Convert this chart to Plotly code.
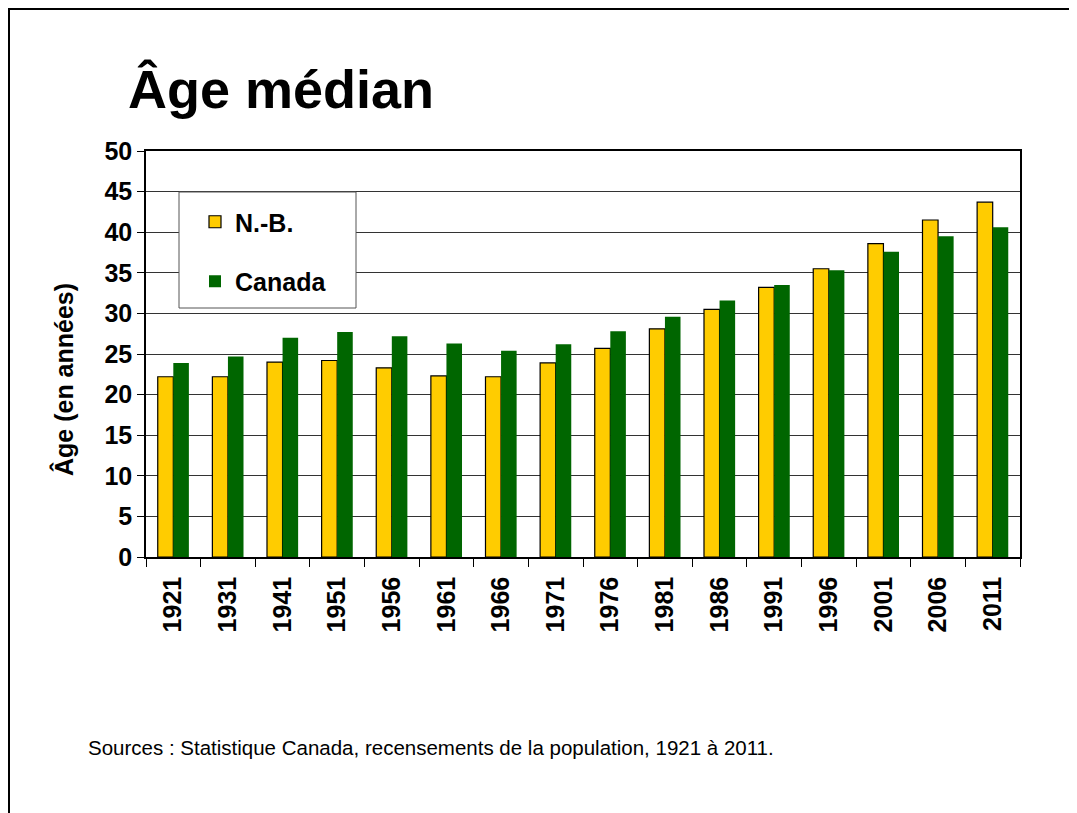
import plotly.graph_objects as go

years = ["1921", "1931", "1941", "1951", "1956", "1961", "1966", "1971",
         "1976", "1981", "1986", "1991", "1996", "2001", "2006", "2011"]
nb = [22.2, 22.2, 24.0, 24.2, 23.3, 22.3, 22.2, 23.9,
      25.7, 28.1, 30.5, 33.2, 35.5, 38.6, 41.5, 43.7]
canada = [23.9, 24.7, 27.0, 27.7, 27.2, 26.3, 25.4, 26.2,
          27.8, 29.6, 31.6, 33.5, 35.3, 37.6, 39.5, 40.6]
y_ticks = [0, 5, 10, 15, 20, 25, 30, 35, 40, 45, 50]

OFF = 8  # page body margin
W, H = 1077 - OFF, 813 - OFF
L, R, T, B = 146 - OFF, 1020 - OFF, 151 - OFF, 557 - OFF


def px(x):  # screen x -> paper
    return (x - OFF - L) / (R - L)


def py(y):  # screen y -> paper
    return (B - (y - OFF)) / (B - T)


FONT = "Liberation Sans, Arial, sans-serif"

fig = go.Figure()
fig.add_trace(go.Bar(
    x=years, y=nb, name="N.-B.", legendgroup="a",
    marker=dict(color="#FFCC00", line=dict(color="#000000", width=1.2)),
))
fig.add_trace(go.Bar(
    x=years, y=canada, name="Canada", legendgroup="b",
    marker=dict(color="#006600", line=dict(color="#006600", width=0)),
))

shapes = [
    # legend box
    dict(type="rect", xref="paper", yref="paper",
         x0=px(179), x1=px(356), y0=py(308), y1=py(192),
         fillcolor="white", line=dict(color="#555555", width=1), layer="above"),
    # outer frame (top and left)
    dict(type="line", xref="paper", yref="paper",
         x0=px(8), x1=px(1090), y0=py(9), y1=py(9),
         line=dict(color="black", width=2)),
    dict(type="line", xref="paper", yref="paper",
         x0=px(9), x1=px(9), y0=py(8), y1=py(820),
         line=dict(color="black", width=2)),
]

fig.update_layout(
    width=W, height=H,
    margin=dict(l=L, r=W - R, t=T, b=H - B, autoexpand=False),
    paper_bgcolor="white", plot_bgcolor="white",
    font=dict(family=FONT, color="black"),
    barmode="group", bargap=0.43, bargroupgap=0.0,
    title=dict(text="<b>Âge médian</b>", font=dict(family=FONT, size=54, color="black"),
               x=(128 - OFF) / W, xanchor="left", xref="container",
               y=1 - (89 - OFF) / H, yanchor="middle", yref="container"),
    showlegend=True,
    legend=dict(x=px(195), xanchor="left", y=py(199), yanchor="top",
                bgcolor="rgba(0,0,0,0)", borderwidth=0,
                font=dict(family=FONT, size=25, color="black", weight="bold"),
                traceorder="grouped", tracegroupgap=24),
    shapes=shapes,
    annotations=[
        dict(text="Sources : Statistique Canada, recensements de la population, 1921 à 2011.",
             xref="paper", yref="paper", x=px(86), y=py(747),
             xanchor="left", yanchor="middle", showarrow=False,
             font=dict(family=FONT, size=20.5, color="black")),
        dict(text="<b>Âge (en années)</b>", textangle=-90,
             xref="paper", yref="paper", x=px(63), y=py(380),
             xanchor="center", yanchor="middle", showarrow=False,
             font=dict(family=FONT, size=25, color="black")),
    ],
)

fig.update_xaxes(
    type="category", showline=True, linecolor="black", linewidth=1.5, mirror=True,
    ticks="outside", tickson="boundaries", ticklen=8, tickcolor="black",
    ticklabelstandoff=8,
    tickangle=-90, tickfont=dict(family=FONT, size=25, color="black", weight="bold"),
    showgrid=False,
)
fig.update_yaxes(
    range=[0, 50], tickvals=y_ticks, showline=True, linecolor="black", linewidth=1.5,
    mirror=True, ticks="outside", ticklen=7, tickcolor="black",
    tickfont=dict(family=FONT, size=25, color="black", weight="bold"),
    showgrid=True, gridcolor="#333333", gridwidth=1, zeroline=False,
)

fig.write_html("out.html")
